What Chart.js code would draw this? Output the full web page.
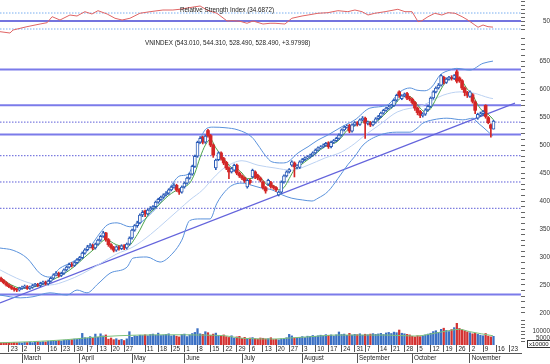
<!DOCTYPE html>
<html><head><meta charset="utf-8">
<script src="https://cdn.jsdelivr.net/npm/chart.js@4.4.1/dist/chart.umd.min.js"></script>
<style>
html,body{margin:0;padding:0;background:#fff;width:550px;height:364px;overflow:hidden;font-family:"Liberation Sans",Arial,sans-serif;}
.layer{position:absolute;left:0;top:0;width:550px;height:364px;}
.lbl{position:absolute;font-size:6.3px;line-height:7px;color:#222;white-space:nowrap;}
</style></head><body>
<div class="layer"><canvas id="cPrice" width="550" height="364"></canvas></div>
<div class="layer"><canvas id="cRsi" width="550" height="364"></canvas></div>
<div class="layer"><canvas id="cVol" width="550" height="364"></canvas></div>
<div class="lbl" style="left:180px;top:6px">Relative Strength Index (34.6872)</div>
<div class="lbl" style="left:145px;top:39px">VNINDEX (543.010, 544.310, 528.490, 528.490, +3.97998)</div>
<div class="lbl" style="left:527px;top:340px;border:1px solid #333;padding:0 1px;line-height:6px;font-size:6px">x10000</div>
<script>
// ---- daily candles (trading-day index 0 = 18 Feb 2009) ----
const open = [262,258,254,250,247,244,242,241,244,246, 247,244,246,249,251,249,253,255,252,257,
 262,268,271,267,271,277,282,287,285,290, 295,299,307,313,318,321,316,323,330,337,
 343,331,322,317,312,318,315,320,316,323, 334,348,356,361,375,382,377,384,387,390,
 398,403,407,411,414,420,425,428,420,416, 425,432,441,448,462,480,505,514,505,526,
 517,500,459,474,486,476,469,459,452,455, 464,450,445,441,425,437,443,452,446,441,
 434,424,430,433,426,424,411,416,434,445, 452,464,468,461,460,470,474,477,479,482,
 486,491,495,497,500,504,497,505,508,512, 518,527,532,535,525,536,540,537,545,548,
 539,540,536,541,547,551,557,562,566,568, 571,580,595,583,588,592,584,582,576,566,
 560,553,555,563,569,584,595,602,607,621, 612,618,621,619,631,620,615,602,594,587,
 590,577,548,553,556,571,549,536,528.49];
const close = [258,254,250,247,244,242,241,244,246,247, 244,246,249,251,249,253,255,252,257,262,
 268,271,267,271,277,282,287,285,290,295, 299,307,313,318,321,316,323,330,337,343,
 331,322,317,312,318,315,320,316,323,334, 348,356,361,375,380,377,384,387,390,398,
 403,407,411,414,420,425,428,420,416,425, 432,441,448,462,480,505,512,505,516,517,
 500,482,473,486,476,468,459,452,458,464, 450,445,441,436,437,433,455,443,441,437,
 424,418,437,426,424,420,416,434,445,452, 456,470,461,463,470,474,477,479,482,486,
 491,495,497,500,503,497,505,508,512,518, 527,532,534,525,536,540,537,545,548,539,
 540,536,541,547,551,557,562,566,568,571, 580,589,588,588,591,584,582,576,566,558,
 553,555,563,569,584,595,602,607,624,612, 618,621,619,624,614,615,602,594,589,595,
 578,562,555,556,560,551,540,530,543.01];
const high = [264,260,256,252,249,246,244,246,248,250, 249,248,251,253,253,255,257,257,259,264,
 270,274,273,273,279,284,289,290,292,297, 301,309,315,321,324,323,325,332,339,346,
 344,333,324,319,320,320,322,322,325,336, 350,358,364,377,383,384,386,390,392,400,
 405,409,413,417,422,427,431,430,422,427, 434,443,450,464,482,507,515,516,518,528,
 519,502,475,488,488,478,471,461,460,466, 466,452,447,443,439,439,457,454,448,443,
 436,426,439,435,428,426,418,436,447,454, 458,472,470,465,472,476,479,481,484,488,
 493,497,499,502,505,506,507,510,514,520, 529,534,536,537,538,542,542,547,551,550,
 543,542,543,549,553,559,564,568,571,573, 582,591,597,590,593,594,587,584,578,568,
 562,558,565,571,586,597,604,610,626,623, 620,623,624,626,634,622,617,604,596,597,
 592,579,557,559,562,572,551,538,544.31];
const low = [256,252,248,245,242,239,238,239,242,244, 242,242,244,247,247,247,251,250,250,255,
 260,266,264,265,269,275,280,282,283,288, 293,297,305,311,316,313,314,321,328,335,
 328,319,314,309,310,312,313,313,314,321, 332,346,353,359,372,372,375,382,385,388,
 396,401,405,409,412,418,423,417,412,414, 423,430,439,446,460,478,503,502,503,514,
 497,478,456,472,473,465,456,440,450,453, 447,442,438,433,423,430,441,440,438,434,
 421,414,428,423,421,417,409,414,432,443, 450,462,443,458,458,468,472,475,477,480,
 484,489,493,495,498,494,495,503,506,510, 516,525,530,522,523,534,534,535,543,512,
 536,533,534,539,545,549,555,560,564,566, 569,578,585,581,586,581,579,573,562,554,
 549,550,553,561,567,582,593,600,605,609, 610,616,616,617,611,612,599,588,585,585,
 575,556,546,551,553,548,538,514,528.49];
// volume in units of 10000 shares
const volume = [1500,1600,1400,1700,1500,1800,1600,1700,1500,1900, 1800,2000,1700,2100,2300,1900,2400,2200,2600,2800,
 3000,2700,3200,2900,3400,3600,3300,3800,4200,4000, 4500,8300,5200,4800,6000,5000,7800,5500,8000,6500,
 7200,4200,5000,3800,4500,3500,4000,3200,4400,9500, 5500,6500,6200,7000,6800,7300,6600,7500,7800,7000,
 8500,6800,7200,7600,8000,6500,7000,6300,5800,7500, 7800,6000,7200,8200,9000,11700,8000,7600,9500,8800,
 7000,7800,8500,6800,6300,7200,6000,5400,6600,5000, 5800,6200,4800,5500,4600,5000,5300,4500,4200,5000,
 4800,4300,4500,5200,3900,4100,3700,4300,4400,5200, 7600,6500,4900,4800,5500,6000,5300,6300,6100,6800,
 6200,6600,7000,6500,7400,6900,7200,6400,7300,9300, 7500,7800,6900,8300,7100,7600,7400,8000,7000,7700,
 7300,7800,8100,7600,7900,8300,7500,8600,9000,8200, 9200,8800,10700,8400,8000,7600,7200,6200,5800,6600,
 6000,6400,7200,7800,8400,9600,10200,9000,11200,12000, 10400,9600,11000,12400,15500,11800,11000,10200,9400,8800,
 8000,8400,7600,7000,6600,8200,6400,5800,6200];

// ---- indicator lines (sparse points: day index, value) ----
const bbUpperIdx = [-0.4,4.6,9.9,15,18.7,22.5,26.3,30.2,34,37.8,40.5,44.3,49.2,51.9,55.7,59.5,63.4,65.6,68.3,71,74,76,78.6,81,85.5,90.5,95.8,98.1,100.8,103.4,107.3,109.5,113.4,117.2,121,124.8,130.2,135.1,140.8,147.3,152.3,156.1,158.8,161.8,164.5,167.6,171.4,174,179,184,187.8];
const bbUpperVal = [316,312,298,270,264,280,289,300,318,343,357,361,354,357,371,389,414,432,445,447,473,509,530,532,531,527,514,500,482,470,468,470,486,497,509,518,533,545,566,571,595,602,598,597,604,625,634,637,634,646,650];
const bbMidIdx = [-0.4,6,12.2,18.7,25.2,31,37.8,44,50.4,57,63.4,68,72.1,77,81,85.5,92,98.1,104.6,111,117.2,123.7,130.2,135.1,138.2,145,151.2,161,168.7,175.2,180.2,186.6,187.8];
const bbMidVal = [277,262,252,250,258,270,288,305,318,340,366,385,402,420,441,460,472,464,459,455,464,477,488,503,515,538,559,571,589,595,593,584,583];
const bbLowerIdx = [-0.4,7.3,12.2,18.7,25.2,29,32.8,37,41.6,48.1,50.4,55.7,60.7,65.6,69,72,76,79.8,82.4,85.5,88.2,92,95.8,99.6,103.4,107.3,111,115,118.7,121,124.8,128.6,132.4,135.1,138.2,144.7,151.1,156.1,158.8,161,164.9,170.2,176.3,180.2,181.7,184,186.6,187.8];
const bbLowerVal = [232,227,229,236,232,241,236,252,271,282,298,300,291,307,330,365,368,368,396,417,428,432,428,423,420,411,405,402,400,405,417,440,465,480,500,518,523,523,530,539,545,548,545,548,541,532,521,516];
const maFastIdx = [0,4,8,12,16,20,24,28,32,36,40,44,48,52,56,60,64,68,72,74,76,78,80,82,84,86,88,90,92,94,96,98,100,102,104,106,108,110,112,114,116,118,120,122,124,126,128,130,132,134,136,138,140,142,144,146,148,150,152,154,156,158,160,162,164,166,168,170,172,174,176,178,180,182,184,186,188];
const maFastVal = [262,250,244,246,251,260,270,283,300,316,331,322,318,340,374,392,410,422,432,450,478,500,510,495,482,470,460,458,450,440,441,446,437,428,428,420,424,440,456,463,470,477,484,492,498,502,505,514,526,532,537,541,542,540,544,553,562,570,582,588,587,578,566,559,565,582,600,614,619,620,614,600,590,572,560,555,545];
const trendIdx = [-0.4,196.2];
const trendVal = [218,575];
const solidLevels = [635,571,519,233];
const dottedLevels = [541,481,434,387];

const rsiIdx = [-0.4,3.4,4.6,9.9,14.9,17.6,19.5,22.5,26.3,29,32,34.7,37,40.5,43.5,46.2,49.2,53,56.9,61.8,65.6,68.3,71,76,78.6,82.4,86.3,88.5,91.2,93.9,96.2,100,102.7,104.6,108.4,111,114.9,117.2,121,124.8,128.6,132.4,135.1,137.8,140.1,142.7,146.6,151.5,154.2,156.9,159.2,160.7,163,165.6,168.3,170.6,173.3,176,178.2,180.9,182.1,184,185.9,187.8];
const rsiVal = [23.3,20,27.5,35.8,42.5,45.8,60.8,52.5,65,62.5,73.3,67.5,75.8,67.5,56.8,52.5,56.8,69.3,73.3,77.5,77.5,79.3,82.5,87.5,77.5,69.3,50,50.8,49.3,44.3,50,42.5,44.3,44.3,42.5,56.8,62.5,65,69.3,70.8,75.8,73.3,77.5,73.3,65,69.3,73.3,79.3,73.3,73.3,48.3,50.8,60.8,69.3,65,70.8,69.3,60.8,52.5,40,34.3,40,35.8,34.7];
const rsiLevels = [70,50,30];

const volMaIdx = [-0.4,12,25,37.8,53,70,76,86,92,105,110,118,128,147,158,168.7,175,179,187.8];
const volMaVal = [1600,2400,3800,5900,7100,7300,7100,6500,4800,4300,5000,5900,7100,7100,6400,9500,11200,9500,6600];

// ---- axis labels ----
const dayTickIdx = [3,8,13,18,23,28,33,37,42,47,55,60,65,70,75,80,85,90,95,100,105,110,115,120,125,130,135,139,144,149,154,159,164,169,174,179,184,189,194];
const dayTickLabels = ['23','2','9','16','23','30','7','13','20','27','11','18','25','1','8','15','22','29','6','13','20','27','3','10','17','24','31','7','14','21','28','5','12','19','26','2','9','16','23'];
const monthTickIdx = [8,30,50,70,92,115,136,157,179];
const monthLabels = ['March','April','May','June','July','August','September','October','November'];
const priceTickVals = []; for (let v = 200; v <= 690; v += 10) priceTickVals.push(v);
const priceLabelVals = [200,250,300,350,400,450,500,550,600,650];
const rsiTickVals = [30,40,50,60,70,80,90,100];
const rsiLabelVals = [50];
const volTickVals = [2500,5000,7500,10000,12500,15000,17500];
const volLabelVals = [5000,10000];

// ---- layout constants ----
const XMIN = -0.4, XMAX = 198.5, AXW = 29;
const FONT = {family: '"Liberation Sans", Arial, sans-serif', size: 6.3};
Chart.defaults.font.family = FONT.family;
Chart.defaults.font.size = FONT.size;
Chart.defaults.color = '#333';

const UPC = '#2c5cb8', DNC = '#d42626';
function pts(xs, ys) { return xs.map((x, i) => ({x: x, y: ys[i]})); }
function fixY(w) { return s => { s.width = w; s.paddingTop = 0; s.paddingBottom = 0; }; }
function yAxis(min, max, tickVals, labelVals, pad) {
  return {
    position: 'right', min: min, max: max, afterFit: fixY(AXW),
    afterBuildTicks: a => { a.ticks = tickVals.map(v => ({value: v})); },
    ticks: {autoSkip: false, padding: pad, crossAlign: 'far', color: '#333', font: FONT,
            callback: v => labelVals.includes(v) ? String(v) : ''},
    grid: {drawOnChartArea: false, drawTicks: true, tickLength: 4, color: '#666', lineWidth: 1},
    border: {display: false}
  };
}
const hiddenX = {type: 'linear', min: XMIN, max: XMAX, display: false, offset: false};
const base = {responsive: false, maintainAspectRatio: false, animation: false, devicePixelRatio: 1,
  plugins: {legend: {display: false}, tooltip: {enabled: false}}};
function lineDs(data, color, width, dash, order, extra) {
  return Object.assign({type: 'line', data: data, borderColor: color, borderWidth: width, borderDash: dash || [],
    pointRadius: 0, fill: false, tension: 0, order: order}, extra || {});
}

const upIdx = [], dnIdx = [];
close.forEach((c, i) => (c >= open[i] ? upIdx : dnIdx).push(i));

// ---- price panel ----
const priceDs = [];
solidLevels.forEach(v => priceDs.push(lineDs([{x: XMIN, y: v}, {x: XMAX, y: v}], '#7b7bea', 2, [], 20)));
dottedLevels.forEach(v => priceDs.push(lineDs([{x: XMIN, y: v}, {x: XMAX, y: v}], '#5d5dd8', 1, [1.5, 1.5], 20)));
priceDs.push(lineDs(pts(trendIdx, trendVal), '#6464dc', 1.2, [], 19));
priceDs.push(lineDs(pts(bbMidIdx, bbMidVal), '#bcd2f2', 1, [], 18, {cubicInterpolationMode: 'monotone'}));
priceDs.push(lineDs(pts(bbUpperIdx, bbUpperVal), '#5a92dc', 1, [], 17, {cubicInterpolationMode: 'monotone'}));
priceDs.push(lineDs(pts(bbLowerIdx, bbLowerVal), '#5a92dc', 1, [], 17, {cubicInterpolationMode: 'monotone'}));
priceDs.push(lineDs(pts(maFastIdx, maFastVal), '#4aa24a', 1, [], 5, {cubicInterpolationMode: 'monotone'}));
const barCommon = {type: 'bar', grouped: false, borderSkipped: false, minBarLength: 1};
priceDs.push(Object.assign({}, barCommon, {data: upIdx.map(i => ({x: i, y: [low[i], high[i]]})), barThickness: 1, backgroundColor: UPC, order: 4}));
priceDs.push(Object.assign({}, barCommon, {data: dnIdx.map(i => ({x: i, y: [low[i], high[i]]})), barThickness: 1, backgroundColor: DNC, order: 4}));
priceDs.push(Object.assign({}, barCommon, {data: upIdx.map(i => ({x: i, y: [open[i], close[i]]})), barThickness: 3, backgroundColor: '#ffffff', borderColor: UPC, borderWidth: 1, order: 2}));
priceDs.push(Object.assign({}, barCommon, {data: dnIdx.map(i => ({x: i, y: [open[i], close[i]]})), barThickness: 3, backgroundColor: DNC, borderWidth: 0, order: 2}));

new Chart(document.getElementById('cPrice'), {
  type: 'bar', data: {datasets: priceDs},
  options: Object.assign({}, base, {
    layout: {padding: {top: 32, bottom: 46, left: 0, right: 0}},
    scales: {x: hiddenX, y: yAxis(191, 702, priceTickVals, priceLabelVals, 13.5)}
  })
});

// ---- RSI panel ----
const rsiDs = [];
rsiLevels.forEach(v => rsiDs.push(v === 50
  ? lineDs([{x: XMIN, y: v}, {x: XMAX, y: v}], '#4646d4', 1.4, [], 10)
  : lineDs([{x: XMIN, y: v}, {x: XMAX, y: v}], '#78aef0', 1, [1.5, 1.5], 10)));
rsiDs.push(lineDs(pts(rsiIdx, rsiVal), '#e06464', 1, [], 1, {clip: false}));
new Chart(document.getElementById('cRsi'), {
  type: 'line', data: {datasets: rsiDs},
  options: Object.assign({}, base, {
    layout: {padding: {top: 0, bottom: 332, left: 0, right: 0}},
    scales: {x: hiddenX, y: yAxis(22.5, 102.5, rsiTickVals, rsiLabelVals, 16)}
  })
});

// ---- volume panel + date axes ----
const volDs = [
  lineDs(pts(volMaIdx, volMaVal), '#7cc07c', 1, [], 1, {cubicInterpolationMode: 'monotone'}),
  {type: 'bar', grouped: false, data: upIdx.map(i => ({x: i, y: volume[i]})), barThickness: 1.6, backgroundColor: '#3a6fc4', order: 3},
  {type: 'bar', grouped: false, data: dnIdx.map(i => ({x: i, y: volume[i]})), barThickness: 1.6, backgroundColor: '#d43232', order: 3}
];
new Chart(document.getElementById('cVol'), {
  type: 'bar', data: {datasets: volDs},
  options: Object.assign({}, base, {
    layout: {padding: {top: 318, bottom: 0, left: 0, right: 0}},
    scales: {
      x: {type: 'linear', position: 'bottom', min: XMIN, max: XMAX, offset: false, weight: 0,
          afterBuildTicks: a => { a.ticks = dayTickIdx.map(v => ({value: v})); },
          afterFit: s => { s.height = 8; s.paddingLeft = 0; s.paddingRight = 0; },
          ticks: {autoSkip: false, maxRotation: 0, minRotation: 0, align: 'start', padding: -6.5, color: '#222', font: FONT,
                  callback: (v, i) => ' ' + dayTickLabels[i]},
          grid: {drawOnChartArea: false, drawTicks: true, tickLength: 7, color: '#555', offset: false},
          border: {display: false}},
      x2: {type: 'linear', position: 'bottom', min: XMIN, max: XMAX, offset: false, weight: 1,
          afterBuildTicks: a => { a.ticks = monthTickIdx.map(v => ({value: v})); },
          afterFit: s => { s.height = 11; s.paddingLeft = 0; s.paddingRight = 0; },
          ticks: {autoSkip: false, maxRotation: 0, minRotation: 0, align: 'start', padding: -9, color: '#222', font: FONT,
                  callback: (v, i) => ' ' + monthLabels[i]},
          grid: {drawOnChartArea: false, drawTicks: true, tickLength: 10, color: '#555', offset: false},
          border: {display: true, color: '#555', width: 1}},
      y: yAxis(0, 19286, volTickVals, volLabelVals, 5)
    }
  })
});
</script>
</body></html>
